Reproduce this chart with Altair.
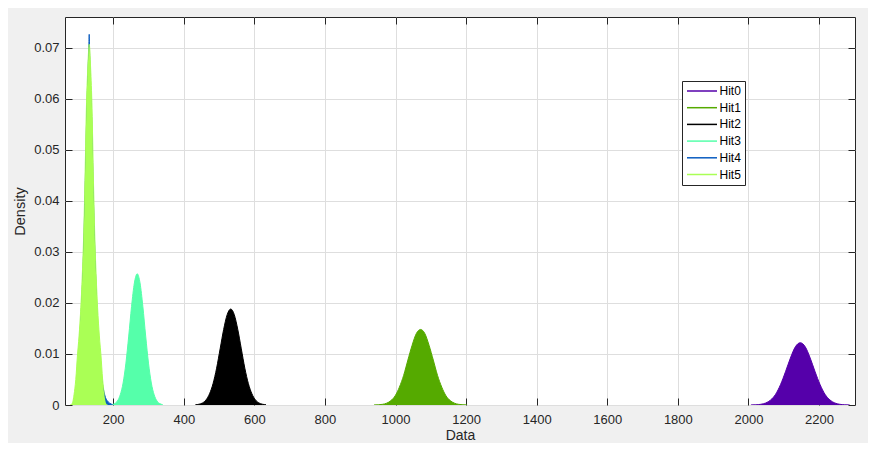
import altair as alt
import pandas as pd

# ---------------- data ----------------
hits = ["Hit0", "Hit1", "Hit2", "Hit3", "Hit4", "Hit5"]
colors = ["#5500aa", "#55aa00", "#000000", "#55ffaa", "#0a5cc0", "#aaff55"]

hit0_x = [2007, 2021, 2035, 2049, 2063, 2077, 2091, 2105, 2119, 2133, 2147,
          2161, 2175, 2189, 2203, 2217, 2231, 2245, 2259, 2273, 2287]
hit0_y = [0.00001, 0.00004, 0.00014, 0.00039, 0.00098, 0.0021, 0.0040, 0.0065, 0.0092, 0.0114, 0.0122,
          0.0114, 0.0092, 0.0065, 0.0040, 0.0021, 0.00098, 0.00039, 0.00014, 0.00004, 0.00001]

hit1_x = [939, 951, 963, 975, 987, 999, 1011, 1023, 1035, 1047, 1059, 1071,
          1083, 1095, 1107, 1119, 1131, 1143, 1155, 1167, 1179, 1191, 1203]
hit1_y = [0.00001, 0.00004, 0.00013, 0.00036, 0.00086, 0.0018, 0.0035, 0.0058, 0.0088, 0.0117, 0.0140, 0.0148,
          0.0140, 0.0117, 0.0088, 0.0058, 0.0035, 0.0018, 0.00086, 0.00036, 0.00013, 0.00004, 0.00001]

hit2_x = [433, 443, 453, 463, 473, 483, 493, 503, 513, 523, 533,
          543, 553, 563, 573, 583, 593, 603, 613, 623, 633]
hit2_y = [0.00005, 0.00015, 0.0004, 0.0010, 0.0022, 0.0042, 0.0072, 0.0110, 0.0148, 0.0177, 0.0188,
          0.0177, 0.0148, 0.0110, 0.0072, 0.0042, 0.0022, 0.0010, 0.0004, 0.00015, 0.00005]

hit3_x = [196, 204, 212, 220, 228, 236, 244, 252, 260, 268,
          276, 284, 292, 300, 308, 316, 324, 332, 340]
hit3_y = [0.00008, 0.00027, 0.00079, 0.0020, 0.0043, 0.0082, 0.0135, 0.0193, 0.0239, 0.0257,
          0.0239, 0.0193, 0.0135, 0.0082, 0.0043, 0.0020, 0.00079, 0.00027, 0.00008]

hit4_x = [86, 91, 96, 101, 106, 111, 116, 121, 125, 129, 131, 132, 133,
          135, 139, 143, 148, 153, 158, 163, 170, 178, 186, 194, 200]
hit4_y = [0.0001, 0.0015, 0.0040, 0.0080, 0.0140, 0.0205, 0.0300, 0.0440, 0.0570, 0.0660, 0.0700, 0.0726, 0.0690,
          0.0640, 0.0560, 0.0430, 0.0300, 0.0200, 0.0120, 0.0080, 0.0040, 0.0015, 0.0006, 0.0002, 0.0]

hit5_x = [78, 84, 89, 94, 99, 102, 107, 112, 117, 120, 124, 128, 132,
          136, 140, 144, 147, 152, 157, 162, 165, 170, 175, 180, 186]
hit5_y = [0.0, 0.0003, 0.002, 0.005, 0.010, 0.0124, 0.0175, 0.0247, 0.035, 0.044, 0.058, 0.066, 0.0707,
          0.066, 0.058, 0.044, 0.035, 0.0247, 0.0175, 0.0124, 0.010, 0.005, 0.002, 0.0003, 0.0]

x_ticks = [200, 400, 600, 800, 1000, 1200, 1400, 1600, 1800, 2000, 2200]
y_ticks = [0, 0.01, 0.02, 0.03, 0.04, 0.05, 0.06, 0.07]
x_domain = [63.4, 2302]
y_domain = [0, 0.076]

rows = []
for name, xs, ys in zip(hits,
                        [hit0_x, hit1_x, hit2_x, hit3_x, hit4_x, hit5_x],
                        [hit0_y, hit1_y, hit2_y, hit3_y, hit4_y, hit5_y]):
    for xv, yv in zip(xs, ys):
        rows.append({"hit": name, "data": xv, "density": yv})
df = pd.DataFrame(rows)

# ---------------- styling ----------------
FONT = "Liberation Sans"
TXT = "#262626"
TICK = 7

xscale = alt.Scale(domain=x_domain, nice=False, zero=False)
yscale = alt.Scale(domain=y_domain, nice=False, zero=False)

x_main = alt.X("data:Q", scale=xscale,
               axis=alt.Axis(orient="bottom", values=x_ticks, format="d", offset=-TICK,
                             tickSize=TICK, labelPadding=8, domain=False, grid=True,
                             title="Data", titlePadding=2, titleFontSize=14))
y_main = alt.Y("density:Q", scale=yscale, stack=None,
               axis=alt.Axis(orient="left", values=y_ticks, format=".2~f", offset=-TICK,
                             tickSize=TICK, labelPadding=6, domain=False, grid=True,
                             title="Density", titlePadding=6))

legend = alt.Legend(title=None, orient="none", legendX=617, legendY=64,
                    symbolType="M-1,0H5", symbolSize=100, symbolStrokeWidth=1.5,
                    labelOffset=21.5, rowPadding=4.7, padding=4,
                    strokeColor=TXT, fillColor="white", cornerRadius=0,
                    labelFont=FONT, labelFontSize=12, labelColor="black")

cscale = alt.Scale(domain=hits, range=colors)

lines = alt.Chart(df).mark_line(strokeWidth=1, interpolate="monotone", clip=True).encode(
    x=x_main, y=y_main,
    color=alt.Color("hit:N", scale=cscale, legend=legend),
)
areas = alt.Chart(df).mark_area(interpolate="monotone", clip=True, opacity=1).encode(
    x=x_main, y=y_main,
    color=alt.Color("hit:N", scale=cscale, legend=None),
)
main = alt.layer(lines, areas)

frame = alt.Chart(df).mark_point(opacity=0).encode(
    x=alt.X("data:Q", scale=xscale,
            axis=alt.Axis(orient="top", values=x_ticks, labels=False, offset=-TICK,
                          tickSize=TICK, domain=False, grid=False, title=None)),
    y=alt.Y("density:Q", scale=yscale,
            axis=alt.Axis(orient="right", values=y_ticks, labels=False, offset=-TICK,
                          tickSize=TICK, domain=False, grid=False, title=None)),
)

chart = (
    alt.layer(main, frame)
    .resolve_scale(x="independent", y="independent")
    .properties(width=790, height=388, background="#f0f0f0",
                padding={"left": 57, "top": 9, "right": 13, "bottom": 38},
                autosize=alt.AutoSizeParams(type="none"))
    .configure_view(fill="white", stroke=TXT, strokeWidth=1)
    .configure_axis(labelFont=FONT, labelFontSize=13, labelColor=TXT,
                    titleFont=FONT, titleFontSize=14.5, titleFontWeight="normal",
                    titleColor=TXT, tickColor=TXT, tickWidth=1,
                    gridColor="#dedede", gridWidth=1, gridOpacity=1)
)

chart.save("out.html", embed_options={"renderer": "svg", "actions": False})
